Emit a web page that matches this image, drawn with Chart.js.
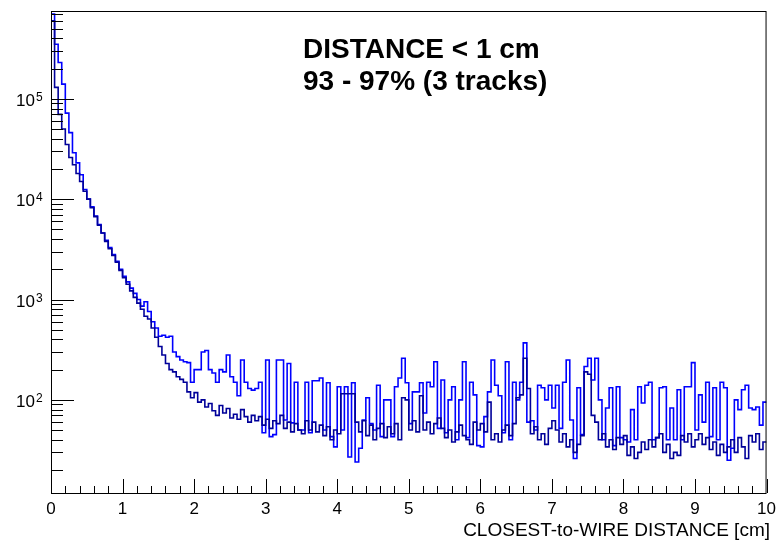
<!DOCTYPE html>
<html>
<head>
<meta charset="utf-8">
<script src="https://cdn.jsdelivr.net/npm/chart.js@4.4.0/dist/chart.umd.min.js"></script>
<style>
  html, body { margin: 0; padding: 0; background: #fff; }
  #wrap { width: 782px; height: 541px; }
</style>
</head>
<body>
<div id="wrap"><canvas id="distChart"></canvas></div>
<script>
const BIN_WIDTH = 0.05;
const X_MIN = 0;
const X_MAX = 10;
const Y_MIN = 11.8;
const Y_MAX = 7.5e5;

// bin contents, 200 bins of 0.05 cm
const histBlue = [
  7.0e5, 3.5e5, 2.3e5, 1.4e5, 7.2e4, 4.6e4, 2.9e4, 2.3e4, 1.75e4, 1.25e4,
  1.0e4, 8.4e3, 6.8e3, 5.6e3, 4.6e3, 3.9e3, 3.3e3, 2.8e3, 2.4e3, 2.0e3,
  1.7e3, 1.5e3, 1.3e3, 1.15e3, 1.0e3, 860, 950, 760, 600, 520,
  430, 440, 420, 430, 300, 270, 250, 240,
  235, 150, 200, 200, 300, 310, 200, 185, 150, 200, 190, 280, 170, 150, 110, 250, 150, 130, 125, 130,
  150, 47, 250, 43, 45, 250, 250, 63, 230, 59, 150, 50, 50, 150,
  47, 155, 155, 165, 50, 148, 43, 34, 135, 50, 135, 27, 148, 24, 33, 63, 105, 58, 50, 140,
  43, 100, 100, 43, 135, 165, 260, 148, 58, 120, 120,
  148, 74, 150, 135, 240, 52, 158, 47, 100, 135, 40, 100, 240, 42, 150, 112, 35, 34, 68, 120,
  250, 140, 110, 47, 240, 40, 150, 100, 150, 370, 60, 62, 50,
  140, 132, 100, 140, 83, 140, 52, 150, 250, 63, 26, 132, 45, 215, 260, 158, 260, 100, 40, 83,
  132, 35, 135, 42, 40, 38, 80, 40, 135, 93, 140,
  150, 40, 42, 132, 135, 40, 83, 40, 126, 40, 135, 135, 235, 50, 112, 60, 150, 43, 132, 40,
  150, 132, 25, 33, 100, 80, 126, 140, 83, 80, 85, 56, 95
];

const histNavy = [
  6.0e5, 1.3e5, 7.0e4, 5.0e4, 3.5e4, 2.6e4, 2.2e4, 1.8e4, 1.5e4, 1.2e4,
  1.0e4, 8.2e3, 6.7e3, 5.5e3, 4.6e3, 3.8e3, 3.2e3, 2.75e3, 2.35e3, 1.95e3,
  1.65e3, 1.42e3, 1.22e3, 1.05e3, 920, 800, 680, 640, 520, 420,
  340, 280, 230, 200, 190, 170, 160, 150,
  120, 105, 118, 95, 100, 85, 92, 78, 70, 88, 74, 82, 66, 72, 64, 80, 68, 60, 70, 62,
  68, 56, 64, 52, 62, 58, 70, 52, 60, 48, 58, 50, 46, 62,
  50, 60, 48, 56, 44, 54, 40, 50, 46, 115, 115, 115, 115, 60, 48, 62, 44, 56, 40, 52,
  58, 42, 54, 46, 58, 40, 105, 100, 50, 62, 48,
  110, 50, 60, 46, 58, 66, 52, 42, 50, 38, 48, 56, 44, 40, 36, 60, 50, 58, 48, 95,
  40, 46, 38, 50, 56, 44, 58, 105, 112, 260, 130, 46, 54,
  40, 46, 36, 52, 62, 50, 38, 46, 34, 40, 30, 36, 44, 190, 180, 70, 60, 40, 46, 34,
  40, 32, 42, 36, 44, 28, 34, 26, 30, 38, 32, 40,
  34, 42, 46, 30, 36, 26, 30, 28, 44, 38, 46, 34, 40, 46, 36, 42, 32, 38, 28, 36,
  30, 34, 40, 30, 42, 34, 26, 44, 38, 46, 32, 38
];

const xTicks = [0, 1, 2, 3, 4, 5, 6, 7, 8, 9, 10];
const yDecades = [100, 1000, 10000, 100000];
const titleLines = ["DISTANCE < 1 cm", "93 - 97% (3 tracks)"];
const xTitle = "CLOSEST-to-WIRE DISTANCE [cm]";

const FONT = '"Liberation Sans", Arial, Helvetica, sans-serif';

// histogram outline: one point per low bin edge plus the closing edge
function toSteps(vals) {
  const pts = vals.map((v, i) => ({ x: i * BIN_WIDTH, y: v }));
  pts.push({ x: vals.length * BIN_WIDTH, y: vals[vals.length - 1] });
  return pts;
}

// ROOT-like frame: ticks drawn inside, exponent labels, text boxes
const rootStyle = {
  id: "rootStyle",
  afterDraw(chart) {
    const { ctx, chartArea: a } = chart;
    const x = chart.scales.x;
    const y = chart.scales.y;
    ctx.save();
    ctx.strokeStyle = "#000";
    ctx.lineWidth = 1;
    ctx.strokeRect(a.left + 0.5, a.top + 0.5, a.right - a.left - 1, a.bottom - a.top);

    ctx.beginPath();
    for (let i = 0; i < xTicks.length; i++) {
      const px = Math.round(x.getPixelForValue(xTicks[i])) + 0.5;
      ctx.moveTo(px, a.bottom);
      ctx.lineTo(px, a.bottom - 14);
      if (i < xTicks.length - 1) {
        for (let k = 1; k < 5; k++) {
          const v = xTicks[i] + (k * (xTicks[i + 1] - xTicks[i])) / 5;
          const pm = Math.round(x.getPixelForValue(v)) + 0.5;
          ctx.moveTo(pm, a.bottom);
          ctx.lineTo(pm, a.bottom - 7);
        }
      }
    }
    for (let d = 10; d <= 1e6; d *= 10) {
      for (let m = 1; m < 10; m++) {
        const v = m * d;
        if (v < Y_MIN || v > Y_MAX) continue;
        const py = Math.round(y.getPixelForValue(v)) + 0.5;
        ctx.moveTo(a.left, py);
        ctx.lineTo(a.left + (m === 1 ? 23 : 12), py);
      }
    }
    ctx.stroke();

    ctx.fillStyle = "#000";
    ctx.textBaseline = "alphabetic";
    for (const v of yDecades) {
      const py = y.getPixelForValue(v);
      ctx.font = "17px " + FONT;
      ctx.textAlign = "right";
      ctx.fillText("10", 35, py + 7);
      ctx.font = "12px " + FONT;
      ctx.textAlign = "left";
      ctx.fillText(String(Math.round(Math.log10(v))), 36, py + 2);
    }

    ctx.font = "19px " + FONT;
    ctx.textAlign = "right";
    ctx.fillText(xTitle, 770, 536);

    ctx.font = "bold 28px " + FONT;
    ctx.textAlign = "left";
    ctx.fillText(titleLines[0], 303, 58);
    ctx.fillText(titleLines[1], 303, 90);
    ctx.restore();
  }
};

new Chart(document.getElementById("distChart"), {
  type: "line",
  data: {
    datasets: [
      {
        label: "navy",
        data: toSteps(histNavy),
        borderColor: "#000099",
        borderWidth: 1.6,
        pointRadius: 0,
        stepped: true,
        fill: false
      },
      {
        label: "blue",
        data: toSteps(histBlue),
        borderColor: "#0000ff",
        borderWidth: 1.6,
        pointRadius: 0,
        stepped: true,
        fill: false
      }
    ]
  },
  options: {
    responsive: true,
    maintainAspectRatio: false,
    animation: false,
    parsing: false,
    layout: { padding: { top: 11, right: 11, left: 0, bottom: 0 } },
    plugins: {
      legend: { display: false },
      tooltip: { enabled: false }
    },
    scales: {
      x: {
        type: "linear",
        min: X_MIN,
        max: X_MAX,
        grid: { display: false, drawTicks: false },
        border: { display: false },
        afterBuildTicks: (s) => { s.ticks = xTicks.map((v) => ({ value: v })); },
        afterFit: (s) => { s.height = 48; },
        ticks: {
          color: "#000",
          padding: 6,
          maxRotation: 0,
          autoSkip: false,
          font: { family: FONT, size: 17 }
        }
      },
      y: {
        type: "logarithmic",
        min: Y_MIN,
        max: Y_MAX,
        grid: { display: false, drawTicks: false },
        border: { display: false },
        afterFit: (s) => { s.width = 51; },
        ticks: { display: false }
      }
    }
  },
  plugins: [rootStyle]
});
</script>
</body>
</html>
